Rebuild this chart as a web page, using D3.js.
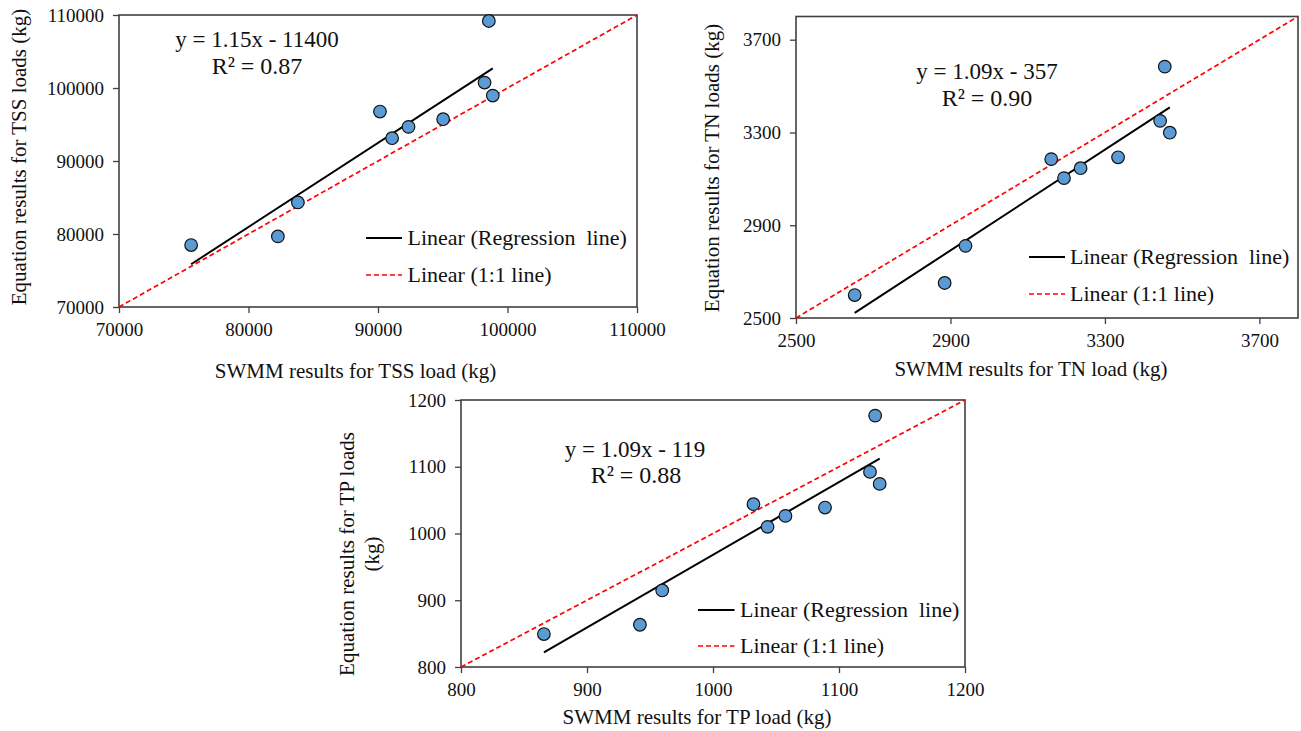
<!DOCTYPE html>
<html>
<head>
<meta charset="utf-8">
<script src="https://cdn.jsdelivr.net/npm/d3@7"></script>
<style>
  html, body { margin: 0; padding: 0; background: #fff; }
  svg { display: block; }
  svg text { font-family: "Liberation Serif", "Times New Roman", Times, "DejaVu Serif", serif; fill: #111; }
</style>
</head>
<body>
<svg id="chart" width="1301" height="731"></svg>
<script>
// ---------- DATA ----------
const tssSWMM = [75569, 82268, 83811, 90152, 91089, 92357, 95031, 98229, 98560, 98863];
const tssEq   = [78483, 79669, 84322, 96773, 93124, 94675, 95724, 100741, 109179, 98962];
const tssTicks = [70000, 80000, 90000, 100000, 110000];
const tssDomain = [70000, 110000];

const tnSWMM = [2652, 2885, 2939, 3161, 3194, 3237, 3334, 3443, 3455, 3468];
const tnEq   = [2599, 2651, 2811, 3185, 3103, 3146, 3193, 3350, 3584, 3299];
const tnTicks = [2500, 2900, 3300, 3700];
const tnDomain = [2500, 3800];

const tpSWMM = [865.8, 942.0, 959.7, 1032.1, 1043.3, 1057.5, 1088.9, 1124.6, 1128.7, 1132.3];
const tpEq   = [849.4, 863.3, 914.7, 1043.9, 1010.0, 1026.4, 1038.9, 1092.3, 1176.6, 1074.3];
const tpTicks = [800, 900, 1000, 1100, 1200];
const tpDomain = [800, 1200];

const equations = ["y = 1.15x - 11400", "y = 1.09x - 357", "y = 1.09x - 119"];
const r2Labels  = ["R² = 0.87", "R² = 0.90", "R² = 0.88"];
const legendLabels = ["Linear (Regression  line)", "Linear (1:1 line)"];
const xTitles = ["SWMM results for TSS load (kg)", "SWMM results for TN load (kg)", "SWMM results for TP load (kg)"];
const yTitles = [["Equation results for TSS loads (kg)"], ["Equation results for TN loads (kg)"], ["Equation results for TP loads", "(kg)"]];

// ---------- DRAW ----------
const svg = d3.select("#chart");

function fit(xs, ys) {
  const mx = d3.mean(xs), my = d3.mean(ys);
  let sxy = 0, sxx = 0;
  xs.forEach((x, i) => { sxy += (x - mx) * (ys[i] - my); sxx += (x - mx) * (x - mx); });
  const a = sxy / sxx;
  return { a, b: my - a * mx };
}

function panel(cfg) {
  const { xs, ys, domain, ticks, box, idx } = cfg;
  const x = d3.scaleLinear().domain(domain).range([box.left, box.right]);
  const y = d3.scaleLinear().domain(domain).range([box.bottom, box.top]);
  const g = svg.append("g");

  // axes
  const xAxis = d3.axisBottom(x).tickValues(ticks).tickSize(6).tickPadding(10).tickFormat(d3.format("d"));
  const yAxis = d3.axisLeft(y).tickValues(ticks).tickSize(6).tickPadding(9).tickFormat(d3.format("d"));
  const gx = g.append("g").attr("transform", `translate(0,${box.bottom})`).call(xAxis);
  const gy = g.append("g").attr("transform", `translate(${box.left},0)`).call(yAxis);
  [gx, gy].forEach(a => {
    a.attr("font-family", null);
    a.select(".domain").remove();
    a.selectAll(".tick line").attr("stroke", "#404040").attr("stroke-width", 1.3);
    a.selectAll(".tick text").attr("font-size", 19).attr("fill", "#111");
  });

  // frame
  g.append("rect")
    .attr("x", box.left).attr("y", box.top)
    .attr("width", box.right - box.left).attr("height", box.bottom - box.top)
    .attr("fill", "none").attr("stroke", "#404040").attr("stroke-width", 1.6);

  // 1:1 line
  g.append("line")
    .attr("x1", x(domain[0])).attr("y1", y(domain[0]))
    .attr("x2", x(domain[1])).attr("y2", y(domain[1]))
    .attr("stroke", "#ff0000").attr("stroke-width", 1.7).attr("stroke-dasharray", "5,3");

  // regression line
  const f = fit(xs, ys);
  const x0 = d3.min(xs), x1 = d3.max(xs);
  g.append("line")
    .attr("x1", x(x0)).attr("y1", y(f.a * x0 + f.b))
    .attr("x2", x(x1)).attr("y2", y(f.a * x1 + f.b))
    .attr("stroke", "#000").attr("stroke-width", 2);

  // points
  g.selectAll("circle.pt").data(xs.map((d, i) => [d, ys[i]])).join("circle")
    .attr("class", "pt")
    .attr("cx", d => x(d[0])).attr("cy", d => y(d[1]))
    .attr("r", 6.3)
    .attr("fill", "#5B9BD5").attr("stroke", "#111").attr("stroke-width", 1.2);

  // equation
  g.append("text").attr("x", cfg.eq[0]).attr("y", cfg.eq[1]).attr("dy", "0.35em")
    .attr("text-anchor", "middle").attr("font-size", 23).text(equations[idx]);
  g.append("text").attr("x", cfg.r2[0]).attr("y", cfg.r2[1]).attr("dy", "0.35em")
    .attr("text-anchor", "middle").attr("font-size", 24).text(r2Labels[idx]);

  // legend
  const L = cfg.legend;
  g.append("line").attr("x1", L.x0).attr("x2", L.x1).attr("y1", L.y0).attr("y2", L.y0)
    .attr("stroke", "#000").attr("stroke-width", 2);
  g.append("line").attr("x1", L.x0).attr("x2", L.x1).attr("y1", L.y1).attr("y2", L.y1)
    .attr("stroke", "#ff0000").attr("stroke-width", 1.7).attr("stroke-dasharray", "5,3");
  g.append("text").attr("x", L.tx).attr("y", L.y0).attr("dy", "0.33em")
    .attr("font-size", 22).style("white-space", "pre").text(legendLabels[0]);
  g.append("text").attr("x", L.tx).attr("y", L.y1).attr("dy", "0.33em")
    .attr("font-size", 22).text(legendLabels[1]);

  // axis titles
  g.append("text").attr("x", cfg.xt[0]).attr("y", cfg.xt[1]).attr("dy", "0.33em")
    .attr("text-anchor", "middle").attr("font-size", 21).text(xTitles[idx]);
  const yt = cfg.yt;
  yTitles[idx].forEach((t, k) => {
    g.append("text")
      .attr("transform", `translate(${yt.xs[k]},${yt.y}) rotate(-90)`)
      .attr("dy", "0.33em")
      .attr("text-anchor", "middle").attr("font-size", 21).text(t);
  });
}

panel({
  idx: 0, xs: tssSWMM, ys: tssEq, domain: tssDomain, ticks: tssTicks,
  box: { left: 119, right: 637, top: 15, bottom: 307 },
  eq: [257, 39], r2: [257, 65.6],
  legend: { x0: 366, x1: 402, y0: 238, y1: 275, tx: 407.5 },
  xt: [355.5, 371], yt: { xs: [19], y: 157 }
});
panel({
  idx: 1, xs: tnSWMM, ys: tnEq, domain: tnDomain, ticks: tnTicks,
  box: { left: 796, right: 1298, top: 16.5, bottom: 318 },
  eq: [987, 71], r2: [987, 97.3],
  legend: { x0: 1029, x1: 1065, y0: 257, y1: 294, tx: 1070 },
  xt: [1031, 369], yt: { xs: [712], y: 168 }
});
panel({
  idx: 2, xs: tpSWMM, ys: tpEq, domain: tpDomain, ticks: tpTicks,
  box: { left: 461, right: 965, top: 400, bottom: 667 },
  eq: [635, 448.6], r2: [636, 475],
  legend: { x0: 698, x1: 734.5, y0: 610, y1: 646, tx: 740 },
  xt: [697, 717], yt: { xs: [347, 372], y: 554 }
});
</script>
</body>
</html>
